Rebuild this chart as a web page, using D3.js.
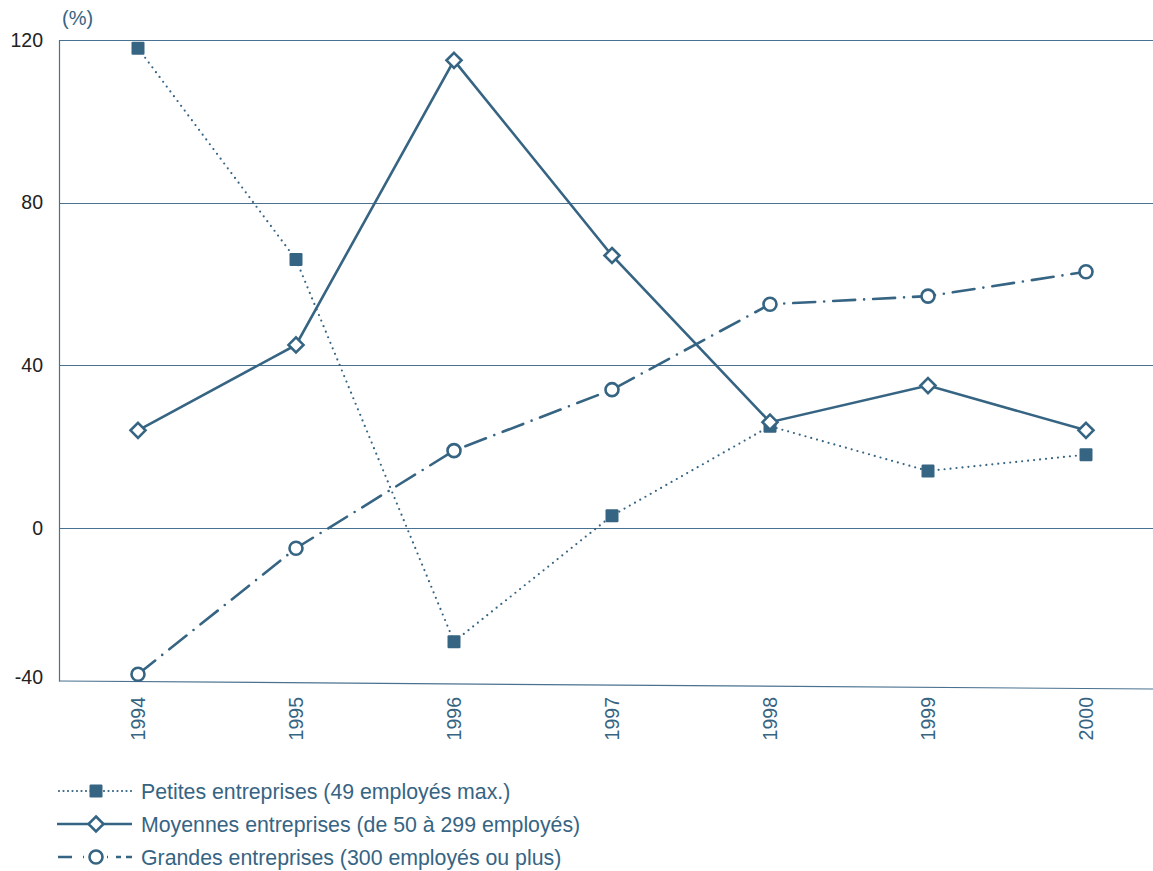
<!DOCTYPE html>
<html>
<head>
<meta charset="utf-8">
<script src="https://cdn.jsdelivr.net/npm/d3@7"></script>
<style>
  html, body { margin: 0; padding: 0; background: #fff; }
  svg { display: block; font-family: "Liberation Sans", Arial, sans-serif; }
</style>
</head>
<body>
<svg id="chart" width="1153" height="871"></svg>
<script>
// Variation annuelle (%) par taille d'entreprise
const years = ["1994", "1995", "1996", "1997", "1998", "1999", "2000"];
const petites = [118, 66, -28, 3, 25, 14, 18];
const moyennes = [24, 45, 115, 67, 26, 35, 24];
const grandes = [-36, -5, 19, 34, 55, 57, 63];
const yTicks = [-40, 0, 40, 80, 120];
const seriesNames = [
  "Petites entreprises (49 employés max.)",
  "Moyennes entreprises (de 50 à 299 employés)",
  "Grandes entreprises (300 employés ou plus)"
];

const W = 1153, H = 871;
const ink = "#366483";
const svg = d3.select("#chart");

const x = d3.scalePoint().domain(years).range([59, 1165]).padding(0.5);
const y = d3.scaleLinear().domain([-40, 120]).range([690.5, 40]);

// horizontal grid
svg.append("g").selectAll("line").data(yTicks.filter(d => d > -40)).join("line")
  .attr("x1", 59).attr("x2", W)
  .attr("y1", d => Math.round(y(d)) + 0.5).attr("y2", d => Math.round(y(d)) + 0.5)
  .attr("stroke", "#4a7290").attr("stroke-width", 1.2);

// base line (slightly slanted in the source layout)
svg.append("line")
  .attr("x1", 59).attr("y1", y(-40) - 9.5)
  .attr("x2", W).attr("y2", y(-40) - 1.5)
  .attr("stroke", "#4a7290").attr("stroke-width", 1.2);

// left axis line
svg.append("line")
  .attr("x1", 59.5).attr("x2", 59.5)
  .attr("y1", y(120)).attr("y2", y(-40) - 9)
  .attr("stroke", "#4a7290").attr("stroke-width", 1.2);

// y tick labels
svg.append("g").selectAll("text").data(yTicks).join("text")
  .attr("x", 43)
  .attr("y", d => d === -40 ? y(d) - 13 : y(d))
  .attr("dy", "0.35em")
  .attr("text-anchor", "end")
  .attr("font-size", 19.5)
  .attr("fill", "#222")
  .text(d => d);

svg.append("text")
  .attr("x", 62).attr("y", 25)
  .attr("font-size", 20).attr("fill", ink)
  .text("(%)");

// x tick labels, rotated
svg.append("g").selectAll("text").data(years).join("text")
  .attr("transform", d => `translate(${x(d) + 7},697) rotate(-90)`)
  .attr("text-anchor", "end")
  .attr("font-size", 19.5)
  .attr("fill", ink)
  .text(d => d);

// series definitions
const series = [
  { name: seriesNames[0], values: petites, dash: "0 6", cap: "round", width: 2.2, marker: "square" },
  { name: seriesNames[1], values: moyennes, dash: null, cap: "butt", width: 2.6, marker: "diamond" },
  { name: seriesNames[2], values: grandes, dash: "22 9 0 9", cap: "round", width: 2.6, marker: "circle" }
];

const line = d3.line().x((d, i) => x(years[i])).y(d => y(d));

function drawMarker(g, kind) {
  if (kind === "square") {
    g.append("rect").attr("x", -6.5).attr("y", -6.5).attr("width", 13).attr("height", 13)
      .attr("rx", 1.2).attr("fill", ink);
  } else if (kind === "diamond") {
    g.append("path").attr("d", "M0,-7.5L7.5,0L0,7.5L-7.5,0Z")
      .attr("fill", "#fff").attr("stroke", ink).attr("stroke-width", 2.6)
      .attr("stroke-linejoin", "miter");
  } else {
    g.append("circle").attr("r", 6.5)
      .attr("fill", "#fff").attr("stroke", ink).attr("stroke-width", 2.6);
  }
}

series.forEach(s => {
  const g = svg.append("g");
  g.append("path").datum(s.values)
    .attr("d", line)
    .attr("fill", "none")
    .attr("stroke", ink)
    .attr("stroke-width", s.width)
    .attr("stroke-linecap", s.cap)
    .attr("stroke-dasharray", s.dash);
  g.selectAll("g.pt").data(s.values).join("g")
    .attr("class", "pt")
    .attr("transform", (d, i) => `translate(${x(years[i])},${y(d)})`)
    .each(function () { drawMarker(d3.select(this), s.marker); });
});

// legend
const legend = svg.append("g");
series.forEach((s, i) => {
  const ly = 791 + i * 33;
  const row = legend.append("g").attr("transform", `translate(0,${ly})`);
  if (s.marker === "circle") {
    // dash-dot swatch: long dash and dot on the left, dot and two short dashes on the right
    row.append("line").attr("x1", 58).attr("x2", 90)
      .attr("stroke", ink).attr("stroke-width", s.width).attr("stroke-linecap", "butt")
      .attr("stroke-dasharray", "14 11 1 100");
    row.append("line").attr("x1", 107).attr("x2", 132)
      .attr("stroke", ink).attr("stroke-width", s.width).attr("stroke-linecap", "butt")
      .attr("stroke-dasharray", "1 8 5 5 6 100");
  } else {
    row.append("line")
      .attr("x1", s.marker === "square" ? 59 : 57).attr("x2", 132)
      .attr("stroke", ink).attr("stroke-width", s.width)
      .attr("stroke-linecap", s.cap)
      .attr("stroke-dasharray", s.marker === "square" ? "0 4.5" : null);
  }
  const m = row.append("g").attr("transform", "translate(96,0)");
  drawMarker(m, s.marker);
  row.append("text")
    .attr("x", 141).attr("dy", "0.36em")
    .attr("font-size", 21.3).attr("fill", ink)
    .text(s.name);
});
</script>
</body>
</html>
